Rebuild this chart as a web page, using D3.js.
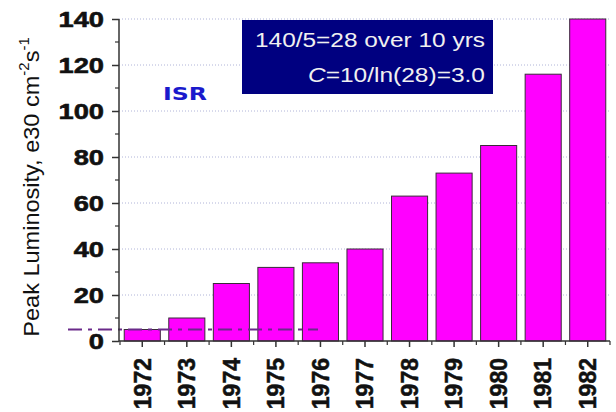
<!DOCTYPE html>
<html><head><meta charset="utf-8">
<script src="https://cdn.jsdelivr.net/npm/d3@7"></script>
<style>body{margin:0;background:#fff}svg{display:block}</style>
</head><body>
<svg id="c" width="616" height="412"></svg>
<script>
const years = ["1972","1973","1974","1975","1976","1977","1978","1979","1980","1981","1982"];
const luminosity = [5,10,25,32,34,40,63,73,85,116,140];
const yTicks = [0,20,40,60,80,100,120,140];
const yMinorTicks = [10,30,50,70,90,110,130];
const isrLevel = 5;
const yLabel = "Peak Luminosity, e30 cm";
const boxLine1 = "140/5=28 over 10 yrs";
const isrText = "ISR";

const svg = d3.select("#c");
const m = {l:119, r:609, t:19, b:341};
const x = d3.scaleBand().domain(years).range([m.l, m.r]).paddingInner(0.19).paddingOuter(0.095);
const y = d3.scaleLinear().domain([0,140]).range([m.b, m.t]);
const SANS = "Liberation Sans, Arial, sans-serif";

// gridlines
svg.append("g").selectAll("line").data(yTicks.filter(d=>d>0)).join("line")
  .attr("x1", m.l).attr("x2", m.r).attr("y1", d=>y(d)).attr("y2", d=>y(d))
  .attr("stroke","#b0b4d8").attr("stroke-width",1).attr("stroke-dasharray","1,2");

// bars
svg.append("g").selectAll("rect").data(years).join("rect")
  .attr("x", d=>x(d)+1).attr("width", x.bandwidth())
  .attr("y", (d,i)=>y(luminosity[i])).attr("height", (d,i)=>y(0)-y(luminosity[i]))
  .attr("fill","#ff00ff").attr("stroke","#3a2a3a").attr("stroke-width",1);

// ISR dash-dot line
svg.append("line").attr("x1",68).attr("x2",318).attr("y1",y(isrLevel)).attr("y2",y(isrLevel))
  .attr("stroke","#6a2a8a").attr("stroke-width",2).attr("stroke-dasharray","14,6,4,6");

// y axis
const yAxis = svg.append("g").attr("transform",`translate(${m.l},0)`)
  .call(d3.axisLeft(y).tickValues(yTicks).tickSize(7).tickFormat(d3.format("d")));
yAxis.select(".domain").attr("stroke","#333").attr("stroke-width",1.5).attr("d",`M0,${m.t}V${m.b}`);
yAxis.selectAll(".tick line").attr("stroke","#333").attr("stroke-width",1.5);
yAxis.selectAll(".tick text").attr("font-family",SANS)
  .attr("font-weight","bold").attr("font-size",22).attr("fill","#111")
  .attr("stroke","#111").attr("stroke-width",0.6)
  .attr("x",0).attr("dy","0.36em")
  .attr("transform","translate(-15,0) scale(1.24,1)");
yAxis.append("g").selectAll("line").data(yMinorTicks).join("line")
  .attr("x1",-4).attr("x2",0).attr("y1",d=>y(d)).attr("y2",d=>y(d)).attr("stroke","#333").attr("stroke-width",1.2);

// x axis
const xAxis = svg.append("g").attr("transform",`translate(0,${m.b})`)
  .call(d3.axisBottom(x).tickSize(6).tickSizeOuter(0));
xAxis.select(".domain").attr("stroke","#333").attr("stroke-width",1.5).attr("d",`M${m.l},0H${m.r+1}`);
xAxis.selectAll(".tick").attr("transform", d=>`translate(${x(d)+1+x.bandwidth()/2},0)`);
xAxis.selectAll(".tick line").attr("stroke","#333").attr("stroke-width",1.5);
xAxis.selectAll(".tick text")
  .attr("font-family",SANS).attr("font-weight","bold")
  .attr("font-size",23).attr("fill","#111")
  .attr("stroke","#111").attr("stroke-width",0.5)
  .attr("transform","rotate(-90)").attr("text-anchor","end").attr("dy","0.36em")
  .attr("x",-17).attr("y",0);
const step = x.step();
const minorX = years.map(d=>x(d) + 1 - (step - x.bandwidth())/2).concat([x(years[years.length-1]) + 1 + x.bandwidth() + (step - x.bandwidth())/2]);
xAxis.append("g").selectAll("line").data(minorX).join("line")
  .attr("x1",d=>d).attr("x2",d=>d).attr("y1",0).attr("y2",4).attr("stroke","#333").attr("stroke-width",1.2);

// y label
const yl = svg.append("text").attr("transform","translate(39,187) rotate(-90) scale(1.07,1)")
  .attr("text-anchor","middle").attr("font-family",SANS)
  .attr("font-size",22).attr("fill","#111");
yl.append("tspan").text(yLabel);
yl.append("tspan").attr("dy",-10).attr("font-size",14).text("-2");
yl.append("tspan").attr("dy",10).text("s");
yl.append("tspan").attr("dy",-10).attr("font-size",14).text("-1");

// info box
svg.append("rect").attr("x",242).attr("y",20).attr("width",251).attr("height",74).attr("fill","#000080");
svg.append("text").attr("x",255).attr("y",47)
  .attr("textLength",230).attr("lengthAdjust","spacingAndGlyphs")
  .attr("font-family",SANS).attr("font-size",20).attr("fill","#f0f0f0").text(boxLine1);
const t2 = svg.append("text").attr("x",308).attr("y",82)
  .attr("textLength",177).attr("lengthAdjust","spacingAndGlyphs")
  .attr("font-family",SANS).attr("font-size",20).attr("fill","#f0f0f0");
t2.append("tspan").attr("font-style","italic").text("C");
t2.append("tspan").text("=10/ln(28)=3.0");

// ISR label
svg.append("text").attr("x",163).attr("y",100).attr("font-family","DejaVu Sans, Verdana, sans-serif")
  .attr("textLength",44).attr("lengthAdjust","spacingAndGlyphs")
  .attr("font-weight","bold").attr("font-size",17).attr("fill","#1a1acc").text(isrText);
</script>
</body></html>
